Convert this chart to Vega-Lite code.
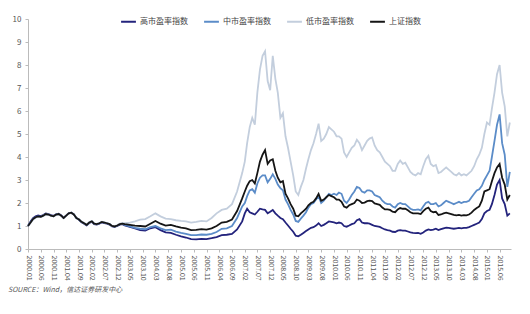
{
"$schema": "https://vega.github.io/schema/vega-lite/v6.json",
"width": 483, "height": 230,
"autosize": {"type": "none"},
"padding": {"left": 28, "top": 19, "right": 19, "bottom": 65},
"background": "white",
"config": {"font": "Noto Sans CJK SC", "view": {"stroke": null}},
"title": {"text": "SOURCE：Wind，信达证券研发中心", "orient": "bottom", "anchor": "start", "frame": "group", "fontSize": 7, "fontStyle": "italic", "fontWeight": "normal", "color": "#555", "dx": -20, "offset": 6},
"data": {"format": {"parse": {"d": "utc:'%Y-%m'"}}, "values": [
{"d":"2000-01","hi":1.00,"mid":1.00,"lo":1.00,"sh":1.00},
{"d":"2000-02","hi":1.20,"mid":1.16,"lo":1.13,"sh":1.15},
{"d":"2000-03","hi":1.34,"mid":1.30,"lo":1.28,"sh":1.30},
{"d":"2000-04","hi":1.42,"mid":1.38,"lo":1.36,"sh":1.38},
{"d":"2000-05","hi":1.46,"mid":1.42,"lo":1.40,"sh":1.42},
{"d":"2000-06","hi":1.43,"mid":1.40,"lo":1.39,"sh":1.40},
{"d":"2000-07","hi":1.48,"mid":1.45,"lo":1.44,"sh":1.45},
{"d":"2000-08","hi":1.55,"mid":1.52,"lo":1.50,"sh":1.52},
{"d":"2000-09","hi":1.52,"mid":1.50,"lo":1.49,"sh":1.50},
{"d":"2000-10","hi":1.47,"mid":1.45,"lo":1.44,"sh":1.45},
{"d":"2000-11","hi":1.44,"mid":1.42,"lo":1.42,"sh":1.42},
{"d":"2000-12","hi":1.51,"mid":1.50,"lo":1.49,"sh":1.50},
{"d":"2001-01","hi":1.53,"mid":1.52,"lo":1.51,"sh":1.52},
{"d":"2001-02","hi":1.46,"mid":1.45,"lo":1.44,"sh":1.45},
{"d":"2001-03","hi":1.36,"mid":1.35,"lo":1.35,"sh":1.35},
{"d":"2001-04","hi":1.45,"mid":1.45,"lo":1.44,"sh":1.45},
{"d":"2001-05","hi":1.55,"mid":1.55,"lo":1.54,"sh":1.55},
{"d":"2001-06","hi":1.58,"mid":1.58,"lo":1.57,"sh":1.58},
{"d":"2001-07","hi":1.50,"mid":1.50,"lo":1.50,"sh":1.50},
{"d":"2001-08","hi":1.35,"mid":1.35,"lo":1.36,"sh":1.35},
{"d":"2001-09","hi":1.27,"mid":1.28,"lo":1.29,"sh":1.28},
{"d":"2001-10","hi":1.16,"mid":1.18,"lo":1.19,"sh":1.18},
{"d":"2001-11","hi":1.10,"mid":1.12,"lo":1.13,"sh":1.12},
{"d":"2001-12","hi":1.03,"mid":1.05,"lo":1.06,"sh":1.05},
{"d":"2002-01","hi":1.13,"mid":1.15,"lo":1.16,"sh":1.15},
{"d":"2002-02","hi":1.18,"mid":1.20,"lo":1.21,"sh":1.20},
{"d":"2002-03","hi":1.08,"mid":1.10,"lo":1.11,"sh":1.10},
{"d":"2002-04","hi":1.06,"mid":1.08,"lo":1.09,"sh":1.08},
{"d":"2002-05","hi":1.10,"mid":1.12,"lo":1.13,"sh":1.12},
{"d":"2002-06","hi":1.16,"mid":1.18,"lo":1.19,"sh":1.18},
{"d":"2002-07","hi":1.13,"mid":1.15,"lo":1.16,"sh":1.15},
{"d":"2002-08","hi":1.10,"mid":1.12,"lo":1.13,"sh":1.12},
{"d":"2002-09","hi":1.06,"mid":1.08,"lo":1.09,"sh":1.08},
{"d":"2002-10","hi":0.98,"mid":1.00,"lo":1.01,"sh":1.00},
{"d":"2002-11","hi":0.96,"mid":0.98,"lo":1.00,"sh":0.98},
{"d":"2002-12","hi":1.00,"mid":1.02,"lo":1.04,"sh":1.02},
{"d":"2003-01","hi":1.06,"mid":1.08,"lo":1.10,"sh":1.08},
{"d":"2003-02","hi":1.08,"mid":1.10,"lo":1.12,"sh":1.10},
{"d":"2003-03","hi":1.03,"mid":1.05,"lo":1.12,"sh":1.08},
{"d":"2003-05","hi":0.96,"mid":0.98,"lo":1.15,"sh":1.05},
{"d":"2003-07","hi":0.90,"mid":0.92,"lo":1.20,"sh":1.02},
{"d":"2003-09","hi":0.82,"mid":0.88,"lo":1.28,"sh":1.00},
{"d":"2003-11","hi":0.80,"mid":0.86,"lo":1.30,"sh":0.98},
{"d":"2004-01","hi":0.90,"mid":0.95,"lo":1.42,"sh":1.10},
{"d":"2004-03","hi":0.95,"mid":1.00,"lo":1.55,"sh":1.22},
{"d":"2004-05","hi":0.82,"mid":0.90,"lo":1.42,"sh":1.10},
{"d":"2004-07","hi":0.72,"mid":0.82,"lo":1.32,"sh":1.02},
{"d":"2004-09","hi":0.70,"mid":0.84,"lo":1.30,"sh":1.05},
{"d":"2004-11","hi":0.62,"mid":0.76,"lo":1.25,"sh":0.98},
{"d":"2005-01","hi":0.55,"mid":0.70,"lo":1.22,"sh":0.93},
{"d":"2005-03","hi":0.50,"mid":0.66,"lo":1.20,"sh":0.90},
{"d":"2005-05","hi":0.43,"mid":0.60,"lo":1.15,"sh":0.82},
{"d":"2005-07","hi":0.42,"mid":0.60,"lo":1.18,"sh":0.83},
{"d":"2005-09","hi":0.44,"mid":0.63,"lo":1.22,"sh":0.86},
{"d":"2005-11","hi":0.43,"mid":0.62,"lo":1.20,"sh":0.84},
{"d":"2006-01","hi":0.47,"mid":0.66,"lo":1.35,"sh":0.90},
{"d":"2006-03","hi":0.52,"mid":0.74,"lo":1.55,"sh":1.00},
{"d":"2006-05","hi":0.60,"mid":0.88,"lo":1.70,"sh":1.15},
{"d":"2006-07","hi":0.62,"mid":0.90,"lo":1.75,"sh":1.18},
{"d":"2006-09","hi":0.66,"mid":1.00,"lo":1.95,"sh":1.28},
{"d":"2006-11","hi":0.85,"mid":1.35,"lo":2.50,"sh":1.65},
{"d":"2007-01","hi":1.20,"mid":1.85,"lo":3.30,"sh":2.20},
{"d":"2007-02","hi":1.55,"mid":2.00,"lo":3.80,"sh":2.50},
{"d":"2007-03","hi":1.75,"mid":2.30,"lo":4.60,"sh":2.75},
{"d":"2007-04","hi":1.60,"mid":2.55,"lo":5.30,"sh":2.95},
{"d":"2007-05","hi":1.55,"mid":2.60,"lo":5.70,"sh":3.00},
{"d":"2007-06","hi":1.50,"mid":2.45,"lo":5.40,"sh":2.85},
{"d":"2007-07","hi":1.62,"mid":2.85,"lo":6.80,"sh":3.30},
{"d":"2007-08","hi":1.75,"mid":3.10,"lo":7.80,"sh":3.80},
{"d":"2007-09","hi":1.72,"mid":3.20,"lo":8.40,"sh":4.10},
{"d":"2007-10","hi":1.70,"mid":3.20,"lo":8.60,"sh":4.30},
{"d":"2007-11","hi":1.55,"mid":2.90,"lo":7.30,"sh":3.70},
{"d":"2007-12","hi":1.62,"mid":3.05,"lo":6.90,"sh":3.85},
{"d":"2008-01","hi":1.70,"mid":3.25,"lo":8.40,"sh":3.90},
{"d":"2008-02","hi":1.55,"mid":3.05,"lo":7.40,"sh":3.40},
{"d":"2008-03","hi":1.45,"mid":2.80,"lo":6.80,"sh":3.10},
{"d":"2008-04","hi":1.35,"mid":2.65,"lo":5.70,"sh":2.90},
{"d":"2008-05","hi":1.30,"mid":2.55,"lo":5.90,"sh":2.95},
{"d":"2008-06","hi":1.15,"mid":2.15,"lo":4.90,"sh":2.40},
{"d":"2008-07","hi":1.02,"mid":1.95,"lo":4.40,"sh":2.20},
{"d":"2008-08","hi":0.88,"mid":1.70,"lo":3.80,"sh":1.95},
{"d":"2008-09","hi":0.75,"mid":1.50,"lo":3.20,"sh":1.75},
{"d":"2008-10","hi":0.58,"mid":1.22,"lo":2.50,"sh":1.45},
{"d":"2008-11","hi":0.55,"mid":1.18,"lo":2.35,"sh":1.42},
{"d":"2008-12","hi":0.62,"mid":1.32,"lo":2.70,"sh":1.55},
{"d":"2009-01","hi":0.70,"mid":1.45,"lo":3.00,"sh":1.65},
{"d":"2009-02","hi":0.78,"mid":1.60,"lo":3.50,"sh":1.75},
{"d":"2009-03","hi":0.85,"mid":1.80,"lo":3.90,"sh":1.90},
{"d":"2009-04","hi":0.92,"mid":1.95,"lo":4.30,"sh":2.00},
{"d":"2009-05","hi":0.95,"mid":2.00,"lo":4.60,"sh":2.05},
{"d":"2009-06","hi":1.02,"mid":2.15,"lo":5.00,"sh":2.20},
{"d":"2009-07","hi":1.12,"mid":2.30,"lo":5.45,"sh":2.40},
{"d":"2009-08","hi":1.00,"mid":2.00,"lo":4.70,"sh":2.10},
{"d":"2009-09","hi":1.05,"mid":2.10,"lo":4.80,"sh":2.15},
{"d":"2009-10","hi":1.12,"mid":2.25,"lo":5.00,"sh":2.25},
{"d":"2009-11","hi":1.20,"mid":2.40,"lo":5.30,"sh":2.35},
{"d":"2009-12","hi":1.18,"mid":2.35,"lo":5.20,"sh":2.30},
{"d":"2010-01","hi":1.16,"mid":2.40,"lo":5.10,"sh":2.25},
{"d":"2010-02","hi":1.12,"mid":2.35,"lo":4.90,"sh":2.15},
{"d":"2010-03","hi":1.15,"mid":2.45,"lo":4.90,"sh":2.15},
{"d":"2010-04","hi":1.12,"mid":2.40,"lo":4.80,"sh":2.05},
{"d":"2010-05","hi":1.00,"mid":2.10,"lo":4.20,"sh":1.85},
{"d":"2010-06","hi":0.97,"mid":2.00,"lo":4.00,"sh":1.80},
{"d":"2010-07","hi":1.02,"mid":2.15,"lo":4.20,"sh":1.90},
{"d":"2010-08","hi":1.08,"mid":2.35,"lo":4.40,"sh":1.95},
{"d":"2010-09","hi":1.12,"mid":2.50,"lo":4.50,"sh":2.00},
{"d":"2010-10","hi":1.25,"mid":2.70,"lo":4.75,"sh":2.15},
{"d":"2010-11","hi":1.30,"mid":2.65,"lo":4.60,"sh":2.10},
{"d":"2010-12","hi":1.15,"mid":2.50,"lo":4.30,"sh":2.00},
{"d":"2011-01","hi":1.12,"mid":2.45,"lo":4.50,"sh":2.02},
{"d":"2011-02","hi":1.12,"mid":2.55,"lo":4.70,"sh":2.08},
{"d":"2011-03","hi":1.10,"mid":2.55,"lo":4.80,"sh":2.10},
{"d":"2011-04","hi":1.05,"mid":2.50,"lo":4.85,"sh":2.08},
{"d":"2011-05","hi":1.00,"mid":2.35,"lo":4.50,"sh":1.98},
{"d":"2011-06","hi":0.98,"mid":2.30,"lo":4.30,"sh":1.95},
{"d":"2011-07","hi":0.96,"mid":2.25,"lo":4.20,"sh":1.92},
{"d":"2011-08","hi":0.90,"mid":2.10,"lo":4.00,"sh":1.80},
{"d":"2011-09","hi":0.85,"mid":2.00,"lo":3.80,"sh":1.72},
{"d":"2011-10","hi":0.82,"mid":1.95,"lo":3.70,"sh":1.72},
{"d":"2011-11","hi":0.80,"mid":1.95,"lo":3.60,"sh":1.70},
{"d":"2011-12","hi":0.75,"mid":1.85,"lo":3.40,"sh":1.62},
{"d":"2012-01","hi":0.74,"mid":1.80,"lo":3.40,"sh":1.60},
{"d":"2012-02","hi":0.80,"mid":1.95,"lo":3.70,"sh":1.72},
{"d":"2012-03","hi":0.82,"mid":2.00,"lo":3.85,"sh":1.78},
{"d":"2012-04","hi":0.80,"mid":1.95,"lo":3.70,"sh":1.75},
{"d":"2012-05","hi":0.80,"mid":1.95,"lo":3.75,"sh":1.75},
{"d":"2012-06","hi":0.76,"mid":1.85,"lo":3.55,"sh":1.68},
{"d":"2012-07","hi":0.72,"mid":1.75,"lo":3.35,"sh":1.60},
{"d":"2012-08","hi":0.70,"mid":1.70,"lo":3.25,"sh":1.55},
{"d":"2012-09","hi":0.69,"mid":1.70,"lo":3.20,"sh":1.55},
{"d":"2012-10","hi":0.70,"mid":1.72,"lo":3.30,"sh":1.55},
{"d":"2012-11","hi":0.66,"mid":1.68,"lo":3.25,"sh":1.52},
{"d":"2012-12","hi":0.72,"mid":1.85,"lo":3.60,"sh":1.65},
{"d":"2013-01","hi":0.80,"mid":2.00,"lo":3.90,"sh":1.75},
{"d":"2013-02","hi":0.85,"mid":2.05,"lo":4.05,"sh":1.80},
{"d":"2013-03","hi":0.82,"mid":1.95,"lo":3.70,"sh":1.65},
{"d":"2013-04","hi":0.84,"mid":1.95,"lo":3.60,"sh":1.60},
{"d":"2013-05","hi":0.88,"mid":2.00,"lo":3.65,"sh":1.62},
{"d":"2013-06","hi":0.82,"mid":1.85,"lo":3.30,"sh":1.48},
{"d":"2013-07","hi":0.86,"mid":1.90,"lo":3.35,"sh":1.50},
{"d":"2013-08","hi":0.90,"mid":2.00,"lo":3.45,"sh":1.55},
{"d":"2013-09","hi":0.93,"mid":2.10,"lo":3.55,"sh":1.58},
{"d":"2013-10","hi":0.92,"mid":2.05,"lo":3.45,"sh":1.55},
{"d":"2013-11","hi":0.90,"mid":2.00,"lo":3.35,"sh":1.52},
{"d":"2013-12","hi":0.88,"mid":1.95,"lo":3.25,"sh":1.48},
{"d":"2014-01","hi":0.90,"mid":2.00,"lo":3.20,"sh":1.46},
{"d":"2014-02","hi":0.92,"mid":2.05,"lo":3.30,"sh":1.48},
{"d":"2014-03","hi":0.90,"mid":2.00,"lo":3.20,"sh":1.45},
{"d":"2014-04","hi":0.92,"mid":2.05,"lo":3.25,"sh":1.47},
{"d":"2014-05","hi":0.92,"mid":2.05,"lo":3.20,"sh":1.46},
{"d":"2014-06","hi":0.95,"mid":2.10,"lo":3.30,"sh":1.50},
{"d":"2014-07","hi":1.00,"mid":2.25,"lo":3.40,"sh":1.58},
{"d":"2014-08","hi":1.05,"mid":2.40,"lo":3.60,"sh":1.70},
{"d":"2014-09","hi":1.10,"mid":2.55,"lo":3.90,"sh":1.78},
{"d":"2014-10","hi":1.15,"mid":2.60,"lo":4.10,"sh":1.85},
{"d":"2014-11","hi":1.30,"mid":2.75,"lo":4.40,"sh":2.10},
{"d":"2014-12","hi":1.55,"mid":3.00,"lo":5.00,"sh":2.50},
{"d":"2015-01","hi":1.65,"mid":3.20,"lo":5.50,"sh":2.55},
{"d":"2015-02","hi":1.70,"mid":3.40,"lo":5.40,"sh":2.60},
{"d":"2015-03","hi":1.95,"mid":4.00,"lo":6.10,"sh":2.95},
{"d":"2015-04","hi":2.35,"mid":4.70,"lo":6.80,"sh":3.30},
{"d":"2015-05","hi":2.80,"mid":5.40,"lo":7.60,"sh":3.55},
{"d":"2015-06","hi":3.00,"mid":5.85,"lo":8.00,"sh":3.70},
{"d":"2015-07","hi":2.20,"mid":4.60,"lo":6.80,"sh":3.10},
{"d":"2015-08","hi":1.95,"mid":4.10,"lo":6.20,"sh":2.80},
{"d":"2015-09","hi":1.45,"mid":2.70,"lo":4.90,"sh":2.15},
{"d":"2015-10","hi":1.55,"mid":3.35,"lo":5.50,"sh":2.35}
]},
"transform": [{"fold": ["hi", "mid", "lo", "sh"], "as": ["s", "v"]}],
"mark": {"type": "line", "strokeWidth": 1.8},
"encoding": {
  "x": {"field": "d", "type": "temporal",
    "scale": {"type": "utc", "domain": [{"year": 2000, "month": 1, "date": 1, "utc": true}, {"year": 2015, "month": 10, "date": 15, "utc": true}]},
    "axis": {"title": null, "labelExpr": "utcFormat(datum.value, '%Y.%m')", "labelAngle": 90, "labelFontSize": 7, "labelColor": "#555", "labelOverlap": false, "labelPadding": 3, "tickSize": 3, "tickColor": "#bbb", "domainColor": "#bbb", "grid": false,
      "values": [
        {"year":2000,"month":1,"date":1,"utc":true},{"year":2000,"month":6,"date":1,"utc":true},{"year":2000,"month":11,"date":1,"utc":true},
        {"year":2001,"month":4,"date":1,"utc":true},{"year":2001,"month":9,"date":1,"utc":true},{"year":2002,"month":2,"date":1,"utc":true},
        {"year":2002,"month":7,"date":1,"utc":true},{"year":2002,"month":12,"date":1,"utc":true},{"year":2003,"month":5,"date":1,"utc":true},
        {"year":2003,"month":10,"date":1,"utc":true},{"year":2004,"month":3,"date":1,"utc":true},{"year":2004,"month":8,"date":1,"utc":true},
        {"year":2005,"month":1,"date":1,"utc":true},{"year":2005,"month":6,"date":1,"utc":true},{"year":2005,"month":11,"date":1,"utc":true},
        {"year":2006,"month":4,"date":1,"utc":true},{"year":2006,"month":9,"date":1,"utc":true},{"year":2007,"month":2,"date":1,"utc":true},
        {"year":2007,"month":7,"date":1,"utc":true},{"year":2007,"month":12,"date":1,"utc":true},{"year":2008,"month":5,"date":1,"utc":true},
        {"year":2008,"month":10,"date":1,"utc":true},{"year":2009,"month":3,"date":1,"utc":true},{"year":2009,"month":8,"date":1,"utc":true},
        {"year":2010,"month":1,"date":1,"utc":true},{"year":2010,"month":6,"date":1,"utc":true},{"year":2010,"month":11,"date":1,"utc":true},
        {"year":2011,"month":4,"date":1,"utc":true},{"year":2011,"month":9,"date":1,"utc":true},{"year":2012,"month":2,"date":1,"utc":true},
        {"year":2012,"month":7,"date":1,"utc":true},{"year":2012,"month":12,"date":1,"utc":true},{"year":2013,"month":5,"date":1,"utc":true},
        {"year":2013,"month":10,"date":1,"utc":true},{"year":2014,"month":3,"date":1,"utc":true},{"year":2014,"month":8,"date":1,"utc":true},
        {"year":2015,"month":1,"date":1,"utc":true},{"year":2015,"month":6,"date":1,"utc":true}
      ]}},
  "y": {"field": "v", "type": "quantitative",
    "scale": {"domain": [0, 10], "nice": false},
    "axis": {"title": null, "values": [0,1,2,3,4,5,6,7,8,9,10], "format": "d", "labelFontSize": 8, "labelColor": "#555", "labelPadding": 4, "tickSize": 3, "tickColor": "#bbb", "domainColor": "#bbb", "grid": false}},
  "color": {"field": "s", "type": "nominal",
    "scale": {"domain": ["hi", "mid", "lo", "sh"], "range": ["#23237c", "#5b8cc8", "#c3cedd", "#151515"]},
    "legend": {"orient": "none", "legendX": 92, "legendY": -6, "direction": "horizontal", "title": null,
      "labelExpr": "{'hi':'高市盈率指数','mid':'中市盈率指数','lo':'低市盈率指数','sh':'上证指数'}[datum.label]",
      "labelFontSize": 8, "labelColor": "#444", "symbolSize": 220, "symbolStrokeWidth": 2, "columnPadding": 12, "labelOffset": 3}}
}
}
